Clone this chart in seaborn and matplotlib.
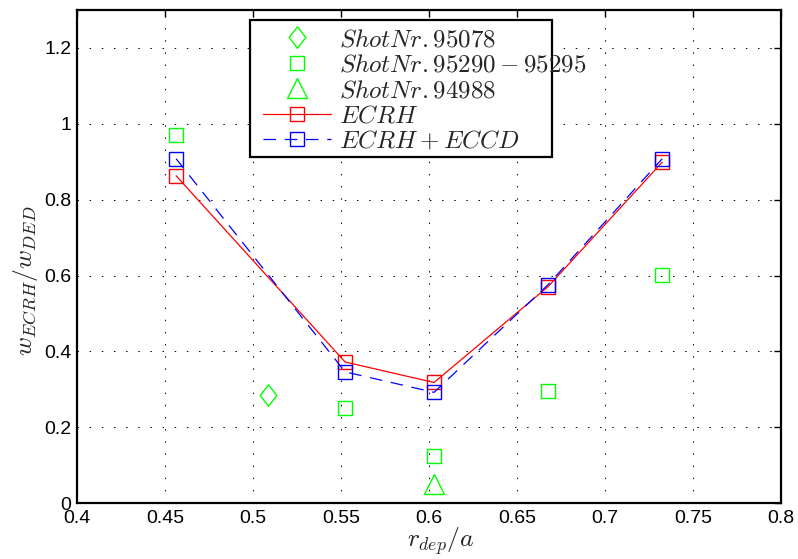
import matplotlib
matplotlib.use("Agg")
import matplotlib.pyplot as plt
from matplotlib.patches import Rectangle
import seaborn as sns
import pandas as pd

# Deposition radius of the heating beam (normalised)
r_ecrh = [0.4563, 0.5523, 0.6028, 0.6676, 0.7324]
w_ecrh = [0.863, 0.372, 0.318, 0.571, 0.899]
w_eccd = [0.908, 0.346, 0.292, 0.576, 0.908]

# Experimental shots
r_95078 = [0.5085]
w_95078 = [0.284]
r_95290 = [0.4563, 0.5523, 0.6028, 0.6676, 0.7324]
w_95290 = [0.971, 0.251, 0.124, 0.296, 0.602]
r_94988 = [0.6028]
w_94988 = [0.05]

labels = [r"$Shot Nr. 95078$", r"$Shot Nr. 95290-95295$", r"$Shot Nr. 94988$",
          r"$ECRH$", r"$ECRH+ECCD$"]

sns.set_theme(style="white")
plt.rcParams["font.family"] = ["Liberation Sans", "DejaVu Sans"]
plt.rcParams["mathtext.fontset"] = "cm"

fig = plt.figure(figsize=(7.98, 5.59), dpi=100)
ax = fig.add_axes([0.0965, 0.1, 0.8825, 0.882])

green = (0, 1, 0)
diamond = [(0, 1), (0.77, 0), (0, -1), (-0.77, 0), (0, 1)]
mk = dict(estimator=None, sort=False, ax=ax)

sns.lineplot(data=pd.DataFrame({"x": r_95078, "y": w_95078}), x="x", y="y",
             linestyle="none", marker=diamond, markersize=15.5, mfc="none", mec=green,
             mew=1.0, label=labels[0], **mk)
sns.lineplot(data=pd.DataFrame({"x": r_95290, "y": w_95290}), x="x", y="y",
             linestyle="none", marker="s", markersize=10, mfc="none", mec=green,
             mew=1.0, label=labels[1], **mk)
sns.lineplot(data=pd.DataFrame({"x": r_94988, "y": w_94988}), x="x", y="y",
             linestyle="none", marker="^", markersize=14, mfc="none", mec=green,
             mew=1.0, label=labels[2], **mk)
sns.lineplot(data=pd.DataFrame({"x": r_ecrh, "y": w_ecrh}), x="x", y="y",
             color="red", lw=0.9, marker="s", markersize=10, mfc="none", mec="red",
             mew=1.0, label=labels[3], **mk)
sns.lineplot(data=pd.DataFrame({"x": r_ecrh, "y": w_eccd}), x="x", y="y",
             color="blue", lw=0.9, dashes=False, marker="s", markersize=10,
             mfc="none", mec="blue", mew=1.0, label=labels[4], **mk)
ax.get_lines()[-1].set_linestyle((0, (10, 7)))

ax.set_xlim(0.4, 0.8)
ax.set_ylim(0, 1.3)
ax.set_xticks([0.4, 0.45, 0.5, 0.55, 0.6, 0.65, 0.7, 0.75, 0.8])
ax.set_xticklabels(["0.4", "0.45", "0.5", "0.55", "0.6", "0.65", "0.7", "0.75", "0.8"])
ax.set_yticks([0, 0.2, 0.4, 0.6, 0.8, 1.0, 1.2])
ax.set_yticklabels(["0", "0.2", "0.4", "0.6", "0.8", "1", "1.2"])

ax.grid(True, color="black", linestyle=(0, (1.5, 11)), linewidth=0.7)
ax.tick_params(direction="in", length=5, width=1.0, top=True, right=True,
               labelsize=14, colors="black")
ax.tick_params(axis="x", pad=5)
ax.tick_params(axis="y", pad=4)
for s in ax.spines.values():
    s.set_visible(True)
    s.set_color("black")
    s.set_linewidth(1.6)

ax.set_xlabel(r"$r_{dep}/a$", fontsize=18.5)
ax.set_ylabel(r"$w_{ECRH}/w_{DED}$", fontsize=18.5)
ax.xaxis.set_label_coords(0.516, -0.045)
ax.yaxis.set_label_coords(-0.052, 0.45)

# Legend box drawn as its own patch; the long label runs past its right edge
ax.add_patch(Rectangle((0.2457, 0.7018), 0.429, 0.2779, transform=ax.transAxes,
                       facecolor="white", edgecolor="black", linewidth=1.6,
                       zorder=4, clip_on=False))
leg = ax.legend(loc="upper left", bbox_to_anchor=(0.2642, 0.9655), fontsize=18,
                frameon=False, handlelength=2.7, handletextpad=0.32,
                labelspacing=0.06, borderpad=0, borderaxespad=0)
leg.set_zorder(5)

fig.savefig("out.png", dpi=100)
